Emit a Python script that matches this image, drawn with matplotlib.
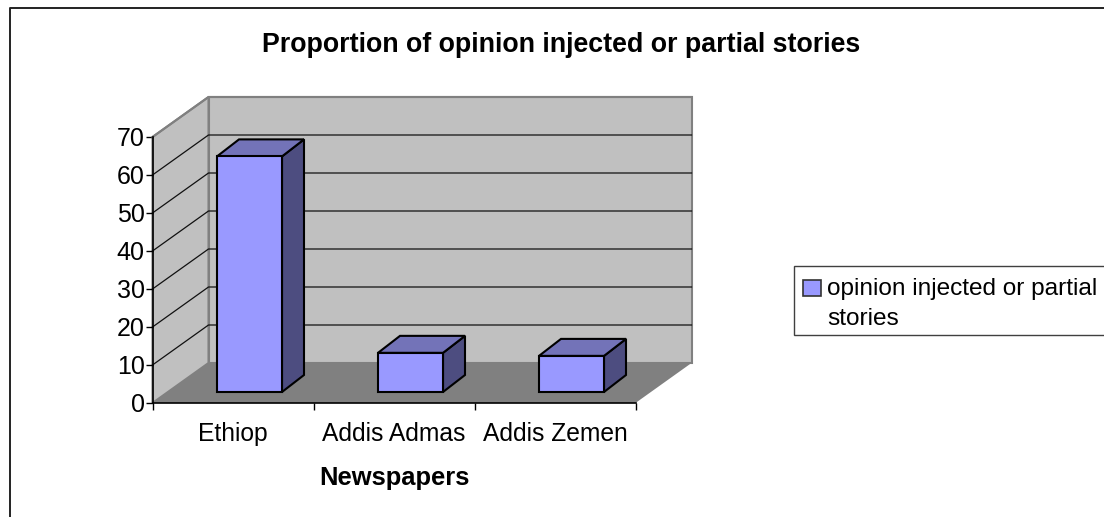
import matplotlib
matplotlib.use("Agg")
import matplotlib.pyplot as plt
from matplotlib.patches import Polygon, Rectangle

categories = ["Ethiop", "Addis Admas", "Addis Zemen"]
values = [62, 10.3, 9.5]
y_ticks = [0, 10, 20, 30, 40, 50, 60, 70]
series_name = "opinion injected or partial\nstories"
title = "Proportion of opinion injected or partial stories"
x_label = "Newspapers"

W, H = 1104, 517
plt.rcParams["font.family"] = ["Liberation Sans", "DejaVu Sans"]
fig = plt.figure(figsize=(W / 100, H / 100), dpi=100, facecolor="white")

def fx(p): return p / W
def fy(p): return 1 - p / H

# outer frame: left and top edges
fig.add_artist(plt.Line2D([fx(9.5), fx(9.5), fx(1104)], [fy(517), fy(7.5), fy(7.5)],
                          transform=fig.transFigure, color="#222222", lw=1.4, zorder=-1))

# front plane of the 3-D box
L, R, T, B = 152.5, 635.5, 137, 403
ax = fig.add_axes([fx(L), fy(B), (R - L) / W, (B - T) / H])
ax.set_xlim(0, len(categories))
ax.set_ylim(min(y_ticks), max(y_ticks))
ax.patch.set_visible(False)

px_x = (R - L) / len(categories)
px_y = (B - T) / max(y_ticks)
DX, DY = 56 / px_x, 40 / px_y          # depth of the box
ymax = max(y_ticks)
xmax = len(categories)

def poly(pts, fc, ec="none", lw=0, z=1):
    ax.add_patch(Polygon(pts, closed=True, fc=fc, ec=ec, lw=lw, zorder=z,
                         clip_on=False, joinstyle="miter"))

# walls and floor
wall, floor, wall_edge = "#C0C0C0", "#808080", "#808080"
poly([(DX, DY), (xmax + DX, DY), (xmax + DX, ymax + DY), (DX, ymax + DY)], wall, wall_edge, 1.5)
poly([(0, 0), (DX, DY), (DX, ymax + DY), (0, ymax)], wall, wall_edge, 1.5)
poly([(0, 0), (xmax, 0), (xmax + DX, DY), (DX, DY)], floor)

# gridlines on the walls
for t in y_ticks[1:]:
    c = "#808080" if t == ymax else "#111111"
    lw = 1.5 if t == ymax else 0.9
    ax.plot([0, DX, xmax + DX], [t, t + DY, t + DY], color=c, lw=lw, zorder=2, clip_on=False)

# bars
bar_w = 65 / px_x
off_x, off_y = 16.5 / px_x, 11 / px_y   # position of bar front inside the box
bdx, bdy = 22 / px_x, 17 / px_y         # depth of each bar
fill, top_c, side_c = "#9999FF", "#7373B8", "#4D4D80"
for i, v in enumerate(values):
    x0 = i + 0.5 + off_x - bar_w / 2
    x1 = x0 + bar_w
    y0 = off_y
    y1 = off_y + v
    poly([(x1, y0), (x1 + bdx, y0 + bdy), (x1 + bdx, y1 + bdy), (x1, y1)], side_c, "black", 1.5, 5)
    poly([(x0, y1), (x1, y1), (x1 + bdx, y1 + bdy), (x0 + bdx, y1 + bdy)], top_c, "black", 1.5, 5)
    ax.bar([i + 0.5 + off_x], [v], width=bar_w, bottom=y0, color=fill, edgecolor="black",
           linewidth=1.5, zorder=6, clip_on=False)

# axes
for s in ("top", "right"):
    ax.spines[s].set_visible(False)
for s in ("left", "bottom"):
    ax.spines[s].set_color("black")
    ax.spines[s].set_linewidth(1.2)
    ax.spines[s].set_zorder(7)
ax.set_yticks(y_ticks)
ax.set_xticks(range(len(categories) + 1))
ax.set_xticklabels([])
ax.set_xticks([i + 0.5 for i in range(len(categories))], minor=True)
ax.set_xticklabels(categories, minor=True)
ax.tick_params(axis="x", which="minor", length=0, labelsize=17.7, pad=13.5)
ax.tick_params(axis="both", which="major", length=5, width=1.0, labelsize=18, pad=0.5)
ax.set_xlabel(x_label, fontsize=18.4, fontweight="bold", labelpad=14.5)

fig.text(fx(561), fy(45), title, fontsize=19.3, fontweight="bold", ha="center", va="center")

# legend
fig.add_artist(Rectangle((fx(794), fy(335)), fx(1106) - fx(794), fy(265.7) - fy(335),
                         transform=fig.transFigure, fc="white", ec="#404040", lw=1.0))
fig.add_artist(Rectangle((fx(803), fy(296)), 17.5 / W, 16 / H, transform=fig.transFigure,
                         fc=fill, ec="#333333", lw=1.2))
fig.text(fx(827), fy(304), series_name, fontsize=17.6, ha="left", va="center", linespacing=1.45)

fig.savefig("out.png", dpi=100)
